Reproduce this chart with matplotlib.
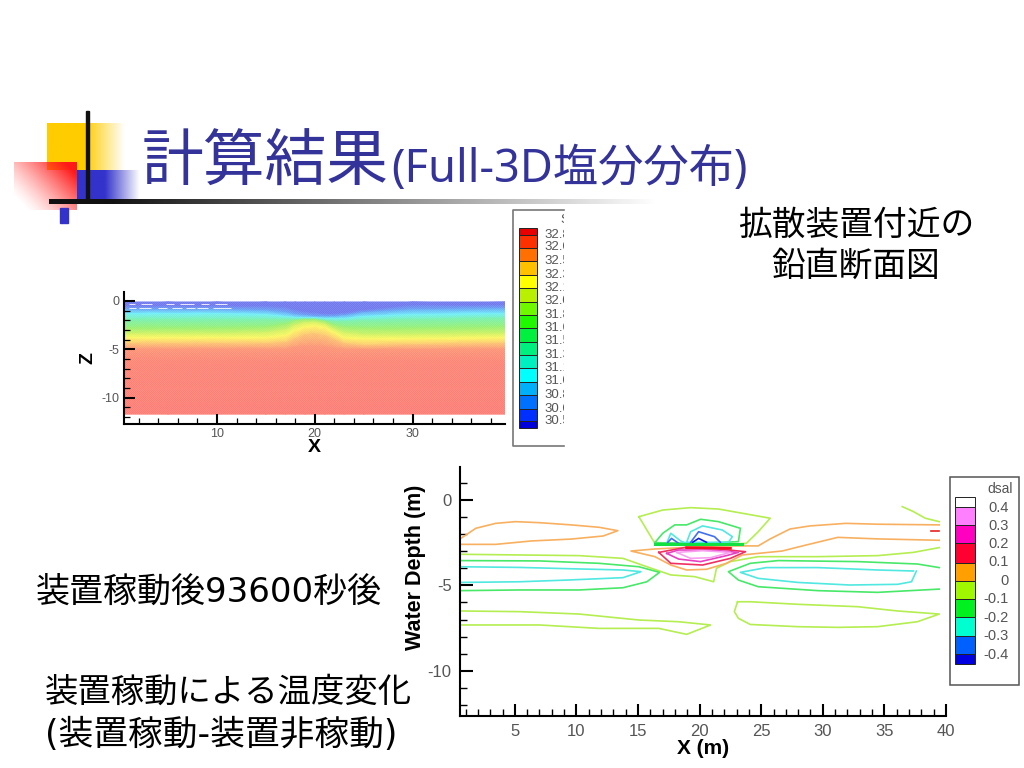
import numpy as np
import matplotlib
matplotlib.use("Agg")
import matplotlib.pyplot as plt
from matplotlib.colors import LinearSegmentedColormap, to_rgb
from matplotlib.patches import Rectangle
from matplotlib.ticker import FixedLocator

plt.rcParams['axes.unicode_minus'] = False

W, H = 1024, 768
JP = ['DejaVu Sans', 'Noto Sans CJK JP']
TITLE = ['Noto Sans', 'Noto Sans CJK JP']
SANS = ['Liberation Sans', 'DejaVu Sans']

# ---------- text ----------
title_jp = "計算結果"
title_rest = "(Full-3D塩分分布)"
note_right = ["拡散装置付近の", "鉛直断面図"]
note_time = "装置稼動後93600秒後"
note_temp = ["装置稼動による温度変化", "(装置稼動-装置非稼動)"]

# ---------- upper panel: depth of salinity colour stops per x ----------
band_x = [0.5, 5, 10, 15, 17, 18, 19, 20, 21, 22, 23, 25, 30, 39.5]
band_top = [-0.1] * 14
b1 = [-0.5, -0.5, -0.5, -0.5, -0.6, -0.9, -1.1, -1.2, -1.3, -1.3, -1.2, -0.9, -0.4, -0.4]
b2 = [-0.9, -0.9, -0.9, -1.0, -1.2, -1.4, -1.5, -1.6, -1.6, -1.6, -1.5, -1.2, -0.9, -0.8]
b3 = [-1.3, -1.3, -1.3, -1.4, -1.6, -1.7, -1.75, -1.75, -1.8, -1.8, -1.8, -1.6, -1.4, -1.3]
b4 = [-1.9, -1.9, -1.9, -1.9, -1.9, -1.9, -1.85, -1.85, -2.0, -2.1, -2.1, -2.0, -1.9, -1.8]
b5 = [-2.8, -2.8, -2.8, -2.7, -2.4, -2.05, -1.95, -1.95, -2.1, -2.5, -2.7, -2.8, -2.8, -2.7]
b6 = [-3.4, -3.4, -3.4, -3.3, -3.0, -2.5, -2.25, -2.2, -2.4, -2.9, -3.3, -3.5, -3.5, -3.4]
b7 = [-3.8, -3.8, -3.8, -3.8, -3.6, -3.0, -2.7, -2.6, -2.75, -3.3, -3.8, -3.9, -3.9, -3.8]
b8 = [-4.4, -4.4, -4.4, -4.4, -4.3, -3.9, -3.5, -3.4, -3.6, -4.0, -4.4, -4.6, -4.5, -4.4]
b9 = [-5.0, -5.0, -5.0, -5.0, -5.0, -4.8, -4.7, -4.7, -4.75, -4.9, -5.0, -5.0, -5.0, -5.0]
b10 = [-6.3] * 14
band_bottom = [-11.7] * 14
band_edges = [band_top, b1, b2, b3, b4, b5, b6, b7, b8, b9, b10, band_bottom]
band_colors = ['#6f78ee', '#6f78ee', '#66aaf6', '#70f0fa', '#78f0b0', '#98f070',
               '#d4f260', '#fcf860', '#fdc470', '#ff9474', '#ff8474', '#ff7c74']

speckle_z = [-0.3, -0.3, -0.3, -0.3, -0.3, -0.3, -0.75, -0.75, -0.75, -0.75, -0.75, -0.75, -0.75]
speckle_x0 = [1.0, 2.2, 4.8, 6.2, 8.4, 9.8, 1.0, 2.0, 4.0, 5.4, 6.8, 8.0, 9.6]
speckle_x1 = [1.6, 3.4, 5.6, 7.6, 9.2, 11.0, 1.7, 3.2, 4.9, 6.4, 7.7, 9.1, 11.4]

top_labels = ["32.8", "32.6", "32.5", "32.3", "32.1", "32.0", "31.8", "31.6",
              "31.5", "31.3", "31.1", "31.0", "30.8", "30.6", "30.5"]
top_swatches = ['#e80000', '#ff3000', '#ff7000', '#ffc000', '#ffff00', '#b8f000',
                '#70f800', '#20f800', '#00f040', '#00f080', '#00f0c0', '#00ffff',
                '#00b0f8', '#0070ff', '#0030ff', '#0000d8']
top_swatch_edges = [228, 234.5, 247.5, 261, 274.5, 288, 301.5, 314.5, 328,
                    341.5, 354.5, 368, 381.5, 395, 408.5, 421, 428]

# ---------- lower panel: contour lines (x in m, depth in m) ----------
orange_left = ([0.54, 1.83, 3.45, 5.06, 7.0, 9.58, 11.84, 13.36, 12.17, 9.58, 6.36, 3.45, 0.54],
               [-2.29, -1.66, -1.37, -1.27, -1.33, -1.46, -1.6, -1.8, -2.11, -2.29, -2.4, -2.6, -2.6])
orange_center = ([39.45, 34.45, 31.87, 28.96, 27.34, 25.73, 24.76, 21.53, 16.37, 14.43, 16.37, 17.66,
                  18.95, 20.56, 22.18, 23.47, 26.7, 28.64, 31.22, 34.45, 39.45],
                 [-1.46, -1.42, -1.37, -1.52, -1.7, -2.28, -2.69, -2.69, -2.87, -2.99, -3.32, -3.81,
                  -4.1, -4.06, -3.71, -3.22, -2.99, -2.64, -2.19, -2.28, -2.36])
lime_top = ([15.07, 17.01, 19.27, 21.53, 25.73, 24.76, 23.79, 21.53, 16.37, 15.72, 15.07],
            [-0.98, -0.59, -0.45, -0.53, -1.07, -1.86, -2.54, -2.64, -2.54, -1.76, -0.98])
lime_mid = ([0.54, 5.39, 10.23, 13.78, 15.72, 17.66, 19.6, 21.14, 21.37, 22.5, 24.76, 29.6, 34.45, 37.35, 39.45],
            [-3.18, -3.22, -3.26, -3.42, -3.91, -4.39, -4.49, -4.79, -4.0, -3.61, -3.32, -3.32, -3.26, -3.07, -2.79])
lime_low_left = ([0.54, 5.39, 10.23, 15.07, 18.3, 20.89, 18.95, 16.69, 11.84, 7.0, 0.54],
                 [-6.5, -6.54, -6.68, -7.03, -7.13, -7.32, -7.87, -7.52, -7.52, -7.32, -7.32])
lime_low_right = ([23.08, 24.11, 27.99, 32.84, 36.07, 39.45, 37.68, 34.45, 31.22, 27.99, 24.11, 23.15, 22.82, 23.08],
                  [-5.96, -5.96, -6.11, -6.25, -6.5, -6.68, -7.13, -7.42, -7.46, -7.42, -7.29, -6.93, -6.54, -5.96])
lime_corner = ([36.45, 37.35, 38.32, 39.45], [-0.39, -0.68, -1.07, -1.27])
green_top = ([16.37, 17.01, 17.98, 18.95, 20.08, 21.53, 23.31, 23.15, 20.24, 16.37],
             [-2.5, -1.95, -1.46, -1.46, -1.13, -1.27, -1.66, -2.44, -2.54, -2.5])
green_left = ([0.54, 7.0, 11.84, 15.07, 16.75, 15.72, 13.78, 10.23, 5.39, 0.54],
              [-3.55, -3.57, -3.71, -3.91, -4.24, -4.79, -5.14, -5.27, -5.27, -5.31])
green_right = ([39.45, 37.68, 32.84, 26.38, 24.11, 22.34, 23.15, 24.76, 29.6, 34.45, 39.45],
               [-3.96, -3.75, -3.61, -3.55, -3.71, -4.2, -4.69, -5.08, -5.31, -5.41, -5.22])
cyan_left = ([0.54, 5.39, 10.23, 13.78, 15.24, 13.78, 9.26, 5.39, 0.54],
             [-3.91, -3.95, -4.04, -4.1, -4.2, -4.55, -4.69, -4.79, -4.83])
cyan_right = ([37.35, 34.45, 29.6, 25.41, 23.31, 24.76, 27.99, 32.19, 36.07, 37.2, 37.6],
              [-4.16, -4.1, -3.96, -3.96, -4.24, -4.59, -4.83, -4.98, -4.94, -4.79, -4.16])
cyan_small = ([17.33, 17.66, 18.46, 18.95], [-2.54, -1.95, -2.4, -2.54])
cyan_center = ([18.95, 19.27, 20.24, 21.85, 22.66, 22.34, 18.95],
               [-2.48, -1.86, -1.52, -1.76, -2.15, -2.48, -2.48])
blue_small = ([17.4, 17.72, 18.3], [-2.5, -2.25, -2.54])
blue_center = ([19.27, 19.92, 21.21, 21.69], [-2.48, -1.86, -2.15, -2.48])
navy_center = ([19.43, 19.92, 20.56], [-2.48, -2.25, -2.48])
green_band = ([16.37, 23.47], [-2.58, -2.58])
red_band = ([18.95, 22.5], [-2.79, -2.83])
red_lens = ([16.69, 17.66, 20.24, 22.5, 23.73, 21.53, 18.78, 16.69],
            [-3.07, -3.71, -3.81, -3.42, -3.03, -2.87, -2.79, -3.07])
mag_lens = ([17.33, 18.3, 20.08, 22.18, 23.15, 20.89, 18.3, 17.33],
            [-3.13, -3.46, -3.61, -3.26, -3.07, -2.93, -2.93, -3.13])
pink_lens = ([18.14, 19.27, 20.89, 22.5, 20.24, 18.14],
             [-3.07, -3.42, -3.38, -3.07, -2.97, -3.07])
red_tick = ([38.8, 39.45], [-1.8, -1.8])

lime, orange_c, green_c, cyan_c, blue_c, navy_c = '#b4ee50', '#f8b060', '#48e868', '#50e8e0', '#4070f0', '#1020e0'
contour_lines = [
    (lime_top, lime), (lime_mid, lime), (lime_low_left, lime), (lime_low_right, lime), (lime_corner, lime),
    (orange_left, orange_c), (orange_center, orange_c),
    (green_top, green_c), (green_left, green_c), (green_right, green_c),
    (cyan_left, cyan_c), (cyan_right, cyan_c), (cyan_small, cyan_c), (cyan_center, cyan_c),
    (blue_small, blue_c), (blue_center, blue_c), (navy_center, navy_c),
    (red_lens, '#f03060'), (mag_lens, '#e840c0'), (pink_lens, '#f8a0f0'),
    (red_tick, '#e82020'),
]

low_labels = ["0.4", "0.3", "0.2", "0.1", "0", "-0.1", "-0.2", "-0.3", "-0.4"]
low_swatches = ['#ffffff', '#ff80ff', '#ff00c0', '#ff0030', '#ffa000',
                '#a0f800', '#00f020', '#00ffd0', '#0060ff', '#0000e0']
low_swatch_edges = [497, 507, 525, 543, 563, 581, 599, 617, 636, 654, 664]
low_label_y = [507.5, 526, 544, 562, 581, 599, 617.5, 635.5, 655]

# ---------- figure ----------
fig = plt.figure(figsize=(W / 100, H / 100), dpi=100, facecolor='white')


def axes_px(x0, y0, x1, y1, **kw):
    return fig.add_axes([x0 / W, 1 - y1 / H, (x1 - x0) / W, (y1 - y0) / H], **kw)


bg = fig.add_axes([0, 0, 1, 1], zorder=0)


def gradient(extent, rgb, alpha):
    img = np.zeros(alpha.shape + (4,))
    img[..., :3] = to_rgb(rgb)
    img[..., 3] = alpha
    bg.imshow(img, extent=extent, aspect='auto', interpolation='bilinear', zorder=1)


ramp = np.linspace(0, 1, 128)
yellow_a = np.clip((125 - (47 + ramp * 78)) / 40, 0, 1)[None, :]
gradient((47, 125, 170, 123), '#ffcc00', yellow_a)
blue_a = np.clip((140 - (77 + ramp * 63)) / 35, 0, 1)[None, :]
gradient((77, 140, 200, 170), '#3333cc', blue_a)
gx, gy = np.meshgrid(ramp, ramp)
red_a = np.clip(gx * 0.75 + (1 - gy) * 0.55 - 0.15, 0, 1) ** 1.3
gradient((14, 77, 210, 162), '#ff1a1a', red_a)
line_a = np.clip(1 - (ramp - 0.1) / 0.9, 0, 1)[None, :]
gradient((49, 660, 204, 199), '#111111', line_a)
bg.add_patch(Rectangle((85.5, 111), 3, 90, color='#111111', zorder=2))
bg.add_patch(Rectangle((60, 208), 8, 15, color='#3333cc', zorder=2))
bg.set_xlim(0, W)
bg.set_ylim(H, 0)
bg.axis('off')

navy = '#333399'
bg.text(142, 181, title_jp, fontsize=44.5, color=navy, family=TITLE, va='baseline', ha='left', zorder=3)
bg.text(391, 182, title_rest, fontsize=32.6, color=navy, family=TITLE, va='baseline', ha='left', zorder=3)
bg.text(856, 225, note_right[0], fontsize=24.3, family=JP, va='center', ha='center', zorder=3)
bg.text(856, 266, note_right[1], fontsize=24.3, family=JP, va='center', ha='center', zorder=3)
bg.text(36, 592, note_time, fontsize=24.5, family=JP, va='center', ha='left', zorder=3)
bg.text(45, 692, note_temp[0], fontsize=24, family=JP, va='center', ha='left', zorder=3)
bg.text(45, 735, note_temp[1], fontsize=25, family=JP, va='center', ha='left', zorder=3)

# ---------- upper panel ----------
ax1 = axes_px(124, 292, 505, 424, zorder=2)
ax1.patch.set_alpha(0)
cmap = LinearSegmentedColormap.from_list('sal', band_colors, N=256)
X = np.tile(band_x, (len(band_edges), 1))
Z = np.array(band_edges)
C = np.tile(np.arange(len(band_edges))[:, None], (1, len(band_x)))
ax1.pcolormesh(X, Z, C, shading='gouraud', cmap=cmap, vmin=0, vmax=len(band_edges) - 1, zorder=1)
yy, xx = np.mgrid[0:112, 0:381]
dither = np.ones((112, 381, 4))
dither[..., 3] = ((yy + xx) % 2) * 0.12
ax1.imshow(dither, extent=(0.5, 39.45, -11.7, -0.1), aspect='auto', interpolation='nearest', zorder=1.5)
ax1.hlines(speckle_z, speckle_x0, speckle_x1, color='white', lw=0.7, alpha=0.85, zorder=2)
ax1.set_xlim(0.49, 39.45)
ax1.set_ylim(-12.72, 0.93)
for s in ('top', 'right'):
    ax1.spines[s].set_visible(False)
for s in ('left', 'bottom'):
    ax1.spines[s].set_linewidth(1.5)
ax1.xaxis.set_major_locator(FixedLocator([10, 20, 30]))
ax1.xaxis.set_minor_locator(FixedLocator(np.arange(2, 40, 2)))
ax1.yaxis.set_major_locator(FixedLocator([0, -5, -10]))
ax1.yaxis.set_minor_locator(FixedLocator(np.arange(-12, 1, 1)))
ax1.tick_params(which='major', direction='in', length=7, width=1.5, labelsize=9, labelcolor='#555555',
                pad=3, labelfontfamily='Liberation Sans')
ax1.tick_params(which='minor', direction='in', length=4, width=0.9)
ax1.tick_params(axis='y', which='major', length=8)
bg.text(314.5, 448, "X", fontsize=14, fontweight='bold', family=SANS, ha='center', va='center', zorder=3)
bg.text(88, 358, "Z", fontsize=14, fontweight='bold', family=SANS, rotation=90, ha='center', va='center', zorder=3)

# upper legend, cut off at its right side as in the slide
bg.plot([564, 512.5, 512.5, 564], [209.5, 209.5, 446, 446], color='#777777', lw=1.2, zorder=3)
for top, bot, col in zip(top_swatch_edges[:-1], top_swatch_edges[1:], top_swatches):
    bg.add_patch(Rectangle((519, top), 18, bot - top, facecolor=col, edgecolor='#222222', lw=0.7, zorder=3))
clip1 = Rectangle((512, 205), 52, 245, transform=bg.transData)
t = bg.text(560, 220, "S", fontsize=9, color='#555555', family=SANS, va='center', zorder=3, clip_on=True)
t.set_clip_path(clip1)
for lab, e in zip(top_labels, top_swatch_edges[1:]):
    t = bg.text(544, e, lab, fontsize=9.5, color='#555555', family=SANS, va='center', zorder=3, clip_on=True)
    t.set_clip_path(clip1)

# ---------- lower panel ----------
ax2 = axes_px(460, 467, 946, 716, zorder=2)
ax2.patch.set_alpha(0)
ax2.set_xlim(0.55, 40)
ax2.set_ylim(-12.65, 1.93)
for (xs, zs), col in contour_lines:
    ax2.plot(xs, zs, color=col, lw=1.2, zorder=2, solid_joinstyle='round')
ax2.plot(*green_band, color='#10e040', lw=2.2, zorder=3)
ax2.plot(*red_band, color='#f01020', lw=2.0, zorder=3)
for s in ('top', 'right'):
    ax2.spines[s].set_visible(False)
for s in ('left', 'bottom'):
    ax2.spines[s].set_linewidth(1.5)
ax2.xaxis.set_major_locator(FixedLocator(np.arange(5, 41, 5)))
ax2.xaxis.set_minor_locator(FixedLocator(np.arange(1, 41, 1)))
ax2.yaxis.set_major_locator(FixedLocator([0, -5, -10]))
ax2.yaxis.set_minor_locator(FixedLocator(np.arange(-12, 2, 1)))
ax2.tick_params(which='major', direction='in', length=9, width=1.5, labelsize=12, labelcolor='#555555',
                pad=6, labelfontfamily='Liberation Sans')
ax2.tick_params(which='minor', direction='in', length=5, width=1.0)
ax2.tick_params(axis='y', which='major', length=9.5, pad=6)
bg.text(703, 748, "X (m)", fontsize=15, fontweight='bold', family=SANS, ha='center', va='center', zorder=3)
bg.text(415, 567, "Water Depth (m)", fontsize=15.5, fontweight='bold', family=SANS, rotation=90,
        ha='center', va='center', zorder=3)

# lower legend
bg.add_patch(Rectangle((950, 477), 69, 208, facecolor='white', edgecolor='#555555', lw=1.1, zorder=3))
for top, bot, col in zip(low_swatch_edges[:-1], low_swatch_edges[1:], low_swatches):
    bg.add_patch(Rectangle((955, top), 20, bot - top, facecolor=col, edgecolor='#222222', lw=0.7, zorder=4))
bg.text(1013, 489, "dsal", fontsize=10, color='#555555', family=SANS, ha='right', va='center', zorder=4)
for lab, y in zip(low_labels, low_label_y):
    bg.text(1009, y, lab, fontsize=10.5, color='#555555', family=SANS, ha='right', va='center', zorder=4)

fig.savefig("out.png", dpi=100, facecolor='white')
